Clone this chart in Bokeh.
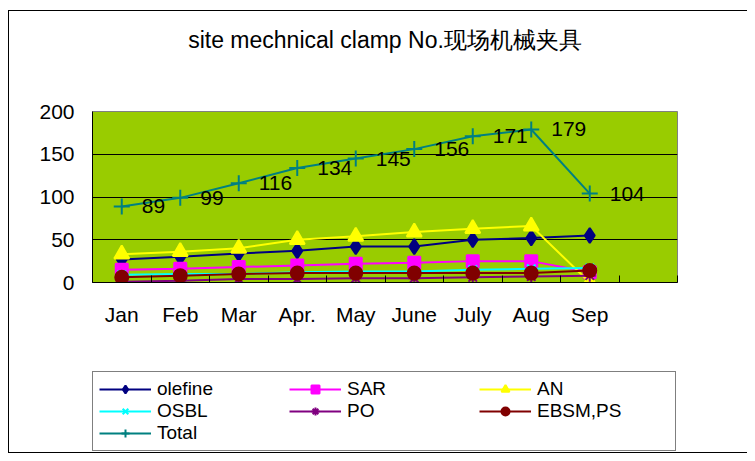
from bokeh.plotting import figure
from bokeh.layouts import column
from bokeh.models import (ColumnDataSource, LabelSet, Legend, LegendItem, FixedTicker,
                          Range1d, Title, LinearAxis, InlineStyleSheet)
from bokeh.core.properties import value
from bokeh.embed import file_html
from bokeh.resources import INLINE

title_text = "site mechnical clamp No.现场机械夹具"
months = ["Jan", "Feb", "Mar", "Apr.", "May", "June", "July", "Aug", "Sep"]
olefine = [27, 30, 34, 37, 42, 42, 50, 52, 55]
sar = [15, 16, 18, 20, 22, 23, 25, 25, 12]
an = [33, 36, 40, 50, 54, 59, 63, 66, 0]
osbl = [9, 10, 10, 12, 13, 13, 15, 16, 17]
po = [1, 2, 4, 4, 5, 5, 6, 7, 8]
ebsm = [6, 8, 10, 11, 11, 11, 11, 11, 14]
total = [89, 99, 116, 134, 145, 156, 171, 179, 104]
y_ticks = [0, 50, 100, 150, 200]

xs = list(range(len(months)))
src = ColumnDataSource(dict(x=xs, olefine=olefine, sar=sar, an=an, osbl=osbl,
                            po=po, ebsm=ebsm, total=total,
                            total_str=[str(v) for v in total]))

FONT = "Liberation Sans"

p = figure(width=747, height=365, x_range=Range1d(-0.5, 9.5), y_range=Range1d(0, 200),
           output_backend="svg", toolbar_location=None, title=None,
           min_border_left=92, min_border_right=70, min_border_top=111, min_border_bottom=83,
           background_fill_color="#99CC00", border_fill_color="white",
           outline_line_color="#808080", outline_line_width=1)

# axes
p.xaxis.ticker = FixedTicker(ticks=xs, minor_ticks=[i - 0.5 for i in range(len(months) + 2)])
p.xaxis.major_label_overrides = {i: m for i, m in enumerate(months)}
p.xaxis.major_tick_line_color = None
p.xaxis.major_tick_out = 0
p.xaxis.major_tick_in = 0
p.xaxis.minor_tick_in = 7
p.xaxis.minor_tick_out = 0
p.xaxis.minor_tick_line_color = "black"
p.xaxis.major_label_standoff = 20
p.yaxis.ticker = FixedTicker(ticks=y_ticks)
p.yaxis.minor_tick_line_color = None
p.yaxis.minor_tick_out = 0
p.yaxis.major_tick_out = 0
p.yaxis.major_tick_in = 0
p.yaxis.major_label_standoff = 18
for ax in (p.xaxis, p.yaxis):
    ax.axis_line_color = "black"
    ax.major_label_text_font = FONT
    ax.major_label_text_font_size = "21px"
    ax.major_label_text_color = "black"
p.xgrid.visible = False
p.ygrid.grid_line_color = "black"
p.ygrid.grid_line_width = 1

# empty axis that only reserves room above the plot, pushing the title up
p.add_layout(LinearAxis(ticker=FixedTicker(ticks=[4], minor_ticks=[]),
                        major_label_overrides={4: ""}, major_label_text_font_size="0px",
                        major_tick_out=59, major_tick_in=0, minor_tick_out=0, minor_tick_in=0,
                        major_label_standoff=0, major_tick_line_color=None,
                        minor_tick_line_color=None, axis_line_color=None), "above")
p.add_layout(Title(text=title_text, align="center", text_font=FONT, text_font_size="23px",
                   text_font_style="normal", text_color="black", standoff=0), "above")

series = [
    ("olefine", "olefine", "#000080", "diamond", 15),
    ("SAR", "sar", "#FF00FF", "square", 12),
    ("AN", "an", "#FFFF00", "triangle", 15),
    ("OSBL", "osbl", "#00FFFF", "x", 12),
    ("PO", "po", "#800080", "asterisk", 12),
    ("EBSM,PS", "ebsm", "#800000", "circle", 13),
    ("Total", "total", "#008080", "cross", 16),
]

for name, col, color, marker, size in series:
    p.line("x", col, source=src, line_color=color, line_width=2)
    p.scatter("x", col, source=src, marker=marker, size=size,
              fill_color=color, line_color=color, line_width=2)

labels = LabelSet(x="x", y="total", text="total_str", source=src, x_offset=20,
                  text_baseline="middle", text_align="left", text_font=value(FONT),
                  text_font_size="21px", text_color="black")
p.add_layout(labels)

# legend strip: a second figure (its ranges keep its copies of the series out of view)
lg = figure(width=747, height=88, x_range=Range1d(100, 101), y_range=Range1d(1000, 1001),
            output_backend="svg", toolbar_location=None, title=None,
            x_axis_location=None, y_axis_location=None, min_border=0,
            outline_line_color=None, background_fill_color="white",
            border_fill_color="white")
lg.grid.visible = False
items = []
for name, col, color, marker, size in series:
    rl = lg.line("x", col, source=src, line_color=color, line_width=2)
    rm = lg.scatter("x", col, source=src, marker=marker, size=size,
                    fill_color=color, line_color=color, line_width=2)
    items.append(LegendItem(label=name, renderers=[rl, rm]))

legend = Legend(items=items, orientation="horizontal", ncols=3, location=(0, 2),
                glyph_width=52, glyph_height=20, label_height=18, label_width=132,
                label_standoff=6, spacing=0, padding=6, margin=0,
                label_text_font=FONT, label_text_font_size="19px", label_text_color="black",
                border_line_color="black", border_line_width=1,
                background_fill_color="white", background_fill_alpha=1)
lg.add_layout(legend, "center")

layout = column(p, lg, spacing=0)
layout.stylesheets = [InlineStyleSheet(css=(
    ":host::after { content: ''; position: absolute; left: 8px; top: 10px; right: 0px; "
    "bottom: 0px; box-sizing: border-box; border-left: 1px solid black; "
    "border-top: 1px solid black; border-bottom: 1px solid black; pointer-events: none; }"))]

open("out.html", "w").write(file_html(layout, INLINE))
